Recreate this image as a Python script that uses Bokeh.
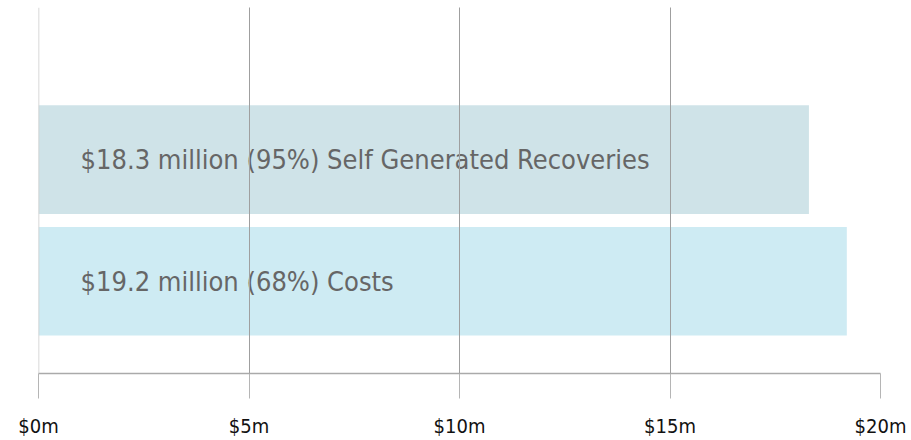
from bokeh.plotting import figure
from bokeh.models import FixedTicker, Span, ColumnDataSource
from bokeh.core.properties import value
from bokeh.embed import file_html
from bokeh.resources import INLINE

# Data
categories = ["Self Generated Recoveries", "Costs"]
labels = ["$18.3 million (95%) Self Generated Recoveries", "$19.2 million (68%) Costs"]
values = [18.3, 19.2]
positions = [2, 1]
colors = ["#cfe3e8", "#ceebf3"]
tick_values = [0, 5, 10, 15, 20]
tick_labels = ["$0m", "$5m", "$10m", "$15m", "$20m"]

FONT = "DejaVu Sans Condensed"

src = ColumnDataSource(dict(cat=categories, label=labels, val=values, pos=positions,
                            color=colors, lx=[1.0] * len(values)))

p = figure(width=911, height=440, x_range=(0, 20), y_range=(0.242, 3.25),
           output_backend="svg", toolbar_location=None,
           min_border_left=38, min_border_right=31, min_border_top=7, min_border_bottom=66)
p.outline_line_color = None
p.background_fill_color = "white"
p.border_fill_color = "white"

p.hbar(y="pos", right="val", left=0, height=0.893, color="color", line_color=None, source=src)
p.text(x="lx", y="pos", text="label", source=src, text_font=value(FONT),
       text_font_size="27px", text_color="#666666", text_baseline="middle", text_align="left")

p.yaxis.visible = False
p.ygrid.visible = False
p.xgrid.ticker = FixedTicker(ticks=tick_values[1:])
p.xgrid.grid_line_color = "#9f9f9f"
p.xgrid.grid_line_width = 1
p.xgrid.level = "overlay"

zero = Span(location=0, dimension="height", line_color="#cccccc", line_width=1.5, level="overlay")
p.add_layout(zero)

ax = p.xaxis[0]
ax.ticker = FixedTicker(ticks=tick_values)
ax.major_label_overrides = {v: l for v, l in zip(tick_values, tick_labels)}
ax.axis_line_color = "#aaaaaa"
ax.axis_line_width = 1.5
ax.major_tick_line_color = "#b5b5b5"
ax.major_tick_out = 25
ax.major_tick_in = 0
ax.minor_tick_line_color = None
ax.major_label_standoff = 15
ax.major_label_text_font = FONT
ax.major_label_text_font_size = "20px"
ax.major_label_text_color = "#111111"

open("out.html", "w").write(file_html(p, INLINE))
